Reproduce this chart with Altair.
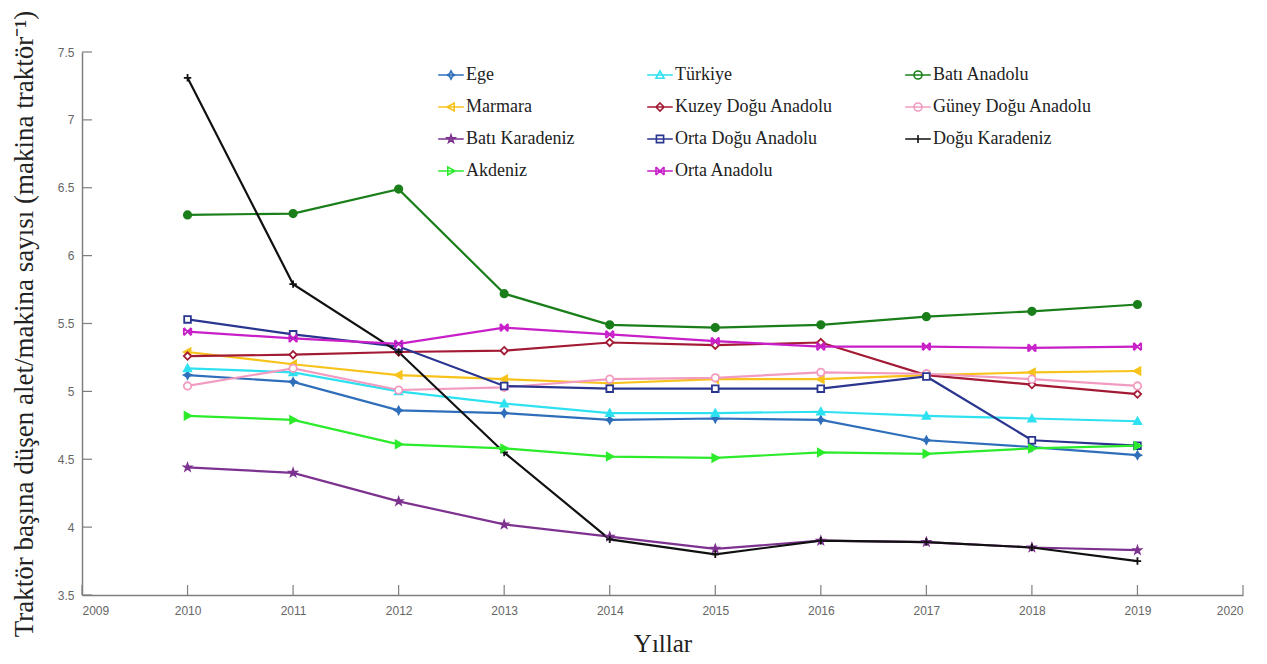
import altair as alt
import pandas as pd

# Years on the x axis
years = [2010, 2011, 2012, 2013, 2014, 2015, 2016, 2017, 2018, 2019]

# Implements per tractor, by region
ege = [5.12, 5.07, 4.86, 4.84, 4.79, 4.80, 4.79, 4.64, 4.59, 4.53]
turkiye = [5.17, 5.14, 5.00, 4.91, 4.84, 4.84, 4.85, 4.82, 4.80, 4.78]
bati_anadolu = [6.30, 6.31, 6.49, 5.72, 5.49, 5.47, 5.49, 5.55, 5.59, 5.64]
marmara = [5.29, 5.20, 5.12, 5.09, 5.06, 5.09, 5.09, 5.12, 5.14, 5.15]
kuzey_dogu_anadolu = [5.26, 5.27, 5.29, 5.30, 5.36, 5.34, 5.36, 5.12, 5.05, 4.98]
guney_dogu_anadolu = [5.04, 5.17, 5.01, 5.03, 5.09, 5.10, 5.14, 5.13, 5.09, 5.04]
bati_karadeniz = [4.44, 4.40, 4.19, 4.02, 3.93, 3.84, 3.90, 3.89, 3.85, 3.83]
orta_dogu_anadolu = [5.53, 5.42, 5.33, 5.04, 5.02, 5.02, 5.02, 5.11, 4.64, 4.60]
dogu_karadeniz = [7.31, 5.79, 5.29, 4.55, 3.91, 3.80, 3.90, 3.89, 3.85, 3.75]
akdeniz = [4.82, 4.79, 4.61, 4.58, 4.52, 4.51, 4.55, 4.54, 4.58, 4.60]
orta_anadolu = [5.44, 5.39, 5.35, 5.47, 5.42, 5.37, 5.33, 5.33, 5.32, 5.33]

regions = ["Ege", "Türkiye", "Batı Anadolu",
           "Marmara", "Kuzey Doğu Anadolu", "Güney Doğu Anadolu",
           "Batı Karadeniz", "Orta Doğu Anadolu", "Doğu Karadeniz",
           "Akdeniz", "Orta Anadolu"]
series = [ege, turkiye, bati_anadolu, marmara, kuzey_dogu_anadolu,
          guney_dogu_anadolu, bati_karadeniz, orta_dogu_anadolu,
          dogu_karadeniz, akdeniz, orta_anadolu]

x_ticks = list(range(2009, 2021))
y_ticks = [3.5, 4.0, 4.5, 5.0, 5.5, 6.0, 6.5, 7.0, 7.5]

line_colors = ["#2F6EBA", "#2DE1F0", "#1A7F1A",
               "#F7C31B", "#A31A35", "#F29BC1",
               "#7D3290", "#2A3590", "#111111",
               "#2BEB2B", "#C81FC8"]
fill_colors = ["#2F6EBA", "#2DE1F0", "#1A7F1A",
               "#F7C31B", "#FFFFFF", "#FFFFFF",
               "#7D3290", "#FFFFFF", "#111111",
               "#2BEB2B", "#C81FC8"]

# Marker outlines in unit coordinates
STAR4 = "M0,-1L0.35,-0.35L1,0L0.35,0.35L0,1L-0.35,0.35L-1,0L-0.35,-0.35Z"
STAR5 = ("M0,-1L0.235,-0.324L0.951,-0.309L0.38,0.124L0.588,0.809L0,0.4"
         "L-0.588,0.809L-0.38,0.124L-0.951,-0.309L-0.235,-0.324Z")
CIRCLE = "M-1,0A1,1 0 1,0 1,0A1,1 0 1,0 -1,0Z"
SQUARE = "M-0.9,-0.9L0.9,-0.9L0.9,0.9L-0.9,0.9Z"
TRI_UP = "M0,-1L1,0.8L-1,0.8Z"
TRI_LEFT = "M-1,0L0.8,-1L0.8,1Z"
TRI_RIGHT = "M1,0L-0.8,-1L-0.8,1Z"
DIAMOND = "M0,-1L1,0L0,1L-1,0Z"
PLUS = "M-1,0L1,0M0,-1L0,1"
BOWTIE = "M-1,-1L1,1M-1,1L1,-1M-1,-1L-1,1M1,-1L1,1"

markers = [STAR4, TRI_UP, CIRCLE, TRI_LEFT, DIAMOND, CIRCLE,
           STAR5, SQUARE, PLUS, TRI_RIGHT, BOWTIE]
# Legend glyphs: a short line segment through the marker
legend_markers = ["M-3.2,0L3.2,0" + m for m in markers]

rows = []
for name, vals in zip(regions, series):
    for yr, v in zip(years, vals):
        rows.append({"yil": yr, "deger": v, "bolge": name})
df = pd.DataFrame(rows)

W, H = 1161, 543
x_scale = alt.Scale(domain=[2009, 2020], nice=False, zero=False)
y_scale = alt.Scale(domain=[3.5, 7.5], nice=False, zero=False)

x_axis = alt.Axis(values=x_ticks, format="d", title="Yıllar", ticks=False,
                  labelPadding=10, titleBaseline="alphabetic", titleY=56,
                  titleX=W / 2, titleAlign="center")
y_axis = alt.Axis(values=y_ticks, format="~g",
                  title="Traktör başına düşen alet/makina sayısı (makina traktör⁻¹)",
                  ticks=False, labelPadding=8, titleAngle=270,
                  titleBaseline="alphabetic", titleAlign="center",
                  titleX=-50, titleY=H / 2)

X = alt.X("yil:Q", scale=x_scale, axis=x_axis)
Y = alt.Y("deger:Q", scale=y_scale, axis=y_axis)

base = alt.Chart(df)

# One line layer and one marker layer per region
line_layers = []
point_layers = []
for name, shape, stroke, fill in zip(regions, markers, line_colors, fill_colors):
    sub = base.transform_filter(alt.datum.bolge == name)
    line_layers.append(
        sub.mark_line(stroke=stroke, strokeWidth=2.2).encode(x=X, y=Y)
    )
    point_layers.append(
        sub.mark_point(shape=shape, filled=False, stroke=stroke, fill=fill,
                       strokeWidth=1.8, size=55, opacity=1).encode(x=X, y=Y)
    )

legend = alt.Legend(
    orient="none", legendX=360, legendY=14, columns=3, direction="horizontal",
    title=None,
    labelFont="Liberation Serif", labelFontSize=18, labelColor="#222222",
    labelLimit=400, labelOffset=6, symbolSize=64, symbolStrokeWidth=1.6,
    symbolOpacity=1, rowPadding=14, columnPadding=69, padding=0,
)

# Legend only: the layer draws no marks of its own
legend_layer = base.mark_point(filled=False, strokeWidth=1.6, opacity=1).encode(
    x=X, y=Y,
    color=alt.Color("bolge:N", scale=alt.Scale(domain=regions, range=line_colors),
                    legend=legend),
    shape=alt.Shape("bolge:N", scale=alt.Scale(domain=regions, range=legend_markers),
                    legend=legend),
).transform_filter("datum.yil < 0")

# Inward-pointing tick marks on both axes
xt = alt.Chart(pd.DataFrame({"yil": x_ticks})).mark_rule(color="#7f7f7f", strokeWidth=1.2).encode(
    x=X, y=alt.value(H), y2=alt.value(H - 10),
)
yt = alt.Chart(pd.DataFrame({"deger": y_ticks})).mark_rule(color="#7f7f7f", strokeWidth=1.2).encode(
    y=Y, x=alt.value(0), x2=alt.value(10),
)

chart = alt.layer(xt, yt, *line_layers, *point_layers, legend_layer).properties(
    width=W, height=H,
    padding={"left": 82, "top": 52, "right": 24, "bottom": 69},
    autosize=alt.AutoSizeParams(type="none"),
).configure_view(stroke=None).configure_axis(
    grid=False, domainColor="#7f7f7f", domainWidth=1.5,
    labelColor="#666666", labelFont="Liberation Sans", labelFontSize=12,
    titleFont="Liberation Serif", titleFontWeight="normal", titleFontSize=25,
    titleColor="#222222",
).configure_axisY(titleFontSize=27)

chart.save("out.html", embed_options={"renderer": "svg", "actions": False})
